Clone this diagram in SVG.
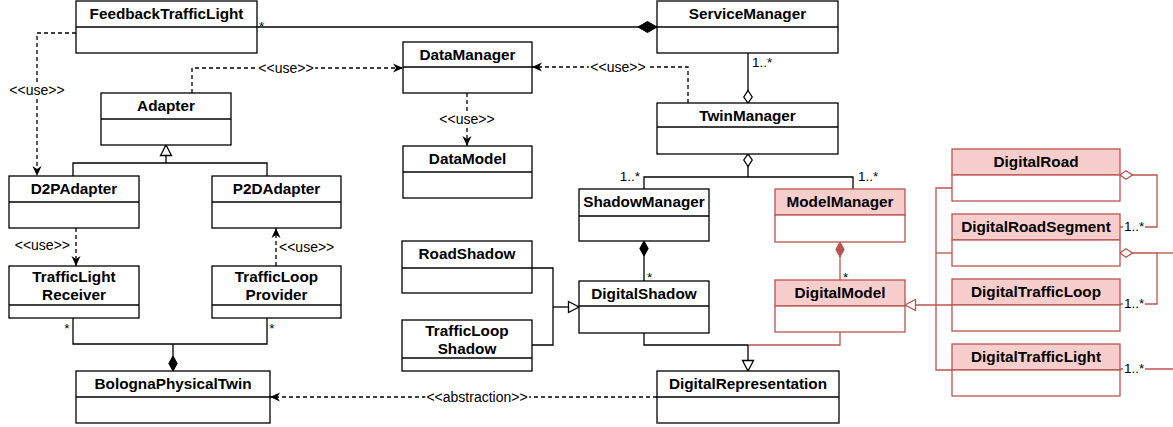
<svg xmlns="http://www.w3.org/2000/svg" width="1173" height="427" viewBox="0 0 1173 427">
  <style>
    .box rect { fill: #ffffff; stroke: #000000; stroke-width: 1.3; }
    .box path { fill: none; stroke: #000000; stroke-width: 1.3; }
    .box.red rect { stroke: #b85450; }
    .box.red rect.head { fill: #f8cecc; }
    .box.red path { stroke: #b85450; }
    .title { font-family: "Liberation Sans", Arial, Helvetica, sans-serif; font-weight: bold; font-size: 15.3px; text-anchor: middle; fill: #000000; }
    .edge { fill: none; stroke: #000000; stroke-width: 1.3; }
    .edge.red { stroke: #b85450; }
    .dash { stroke-dasharray: 4 3; }
    .lbl { font-family: "Liberation Sans", Arial, Helvetica, sans-serif; font-size: 14px; fill: #000000; stroke: #ffffff; stroke-width: 4; stroke-linejoin: round; paint-order: stroke; }
    .mult { font-family: "Liberation Sans", Arial, Helvetica, sans-serif; font-size: 13.5px; fill: #000000; }
    .bg { fill: #ffffff; stroke: none; }
  </style>
  <defs>
    <marker id="arrow" viewBox="0 0 10 9" refX="10" refY="4.5" markerWidth="10" markerHeight="9" markerUnits="userSpaceOnUse" orient="auto" overflow="visible">
      <path d="M0,0 L10,4.5 L0,9 L3,4.5 Z" fill="#000000" stroke="none"/>
    </marker>
    <marker id="tri" viewBox="0 0 12 12" refX="11" refY="6" markerWidth="12" markerHeight="12" markerUnits="userSpaceOnUse" orient="auto" overflow="visible">
      <path d="M0.5,0.5 L11,6 L0.5,11.5 Z" fill="#ffffff" stroke="#000000" stroke-width="1.3"/>
    </marker>
    <marker id="triRed" viewBox="0 0 12 12" refX="11" refY="6" markerWidth="12" markerHeight="12" markerUnits="userSpaceOnUse" orient="auto" overflow="visible">
      <path d="M0.5,0.5 L11,6 L0.5,11.5 Z" fill="#ffffff" stroke="#b85450" stroke-width="1.3"/>
    </marker>
    <marker id="diamondBig" viewBox="0 0 20 12" refX="19.5" refY="6" markerWidth="20" markerHeight="12" markerUnits="userSpaceOnUse" orient="auto" overflow="visible">
      <path d="M0.5,6 L10,0.5 L19.5,6 L10,11.5 Z" fill="#000000" stroke="#000000" stroke-width="1"/>
    </marker>
    <marker id="diamond" viewBox="0 0 16 10" refX="15.5" refY="5" markerWidth="16" markerHeight="10" markerUnits="userSpaceOnUse" orient="auto" overflow="visible">
      <path d="M0.5,5 L8,0.8 L15.5,5 L8,9.2 Z" fill="#000000" stroke="#000000" stroke-width="1"/>
    </marker>
    <marker id="diamondRed" viewBox="0 0 16 10" refX="15.5" refY="5" markerWidth="16" markerHeight="10" markerUnits="userSpaceOnUse" orient="auto" overflow="visible">
      <path d="M0.5,5 L8,0.8 L15.5,5 L8,9.2 Z" fill="#b85450" stroke="#b85450" stroke-width="1"/>
    </marker>
    <marker id="odiamond" viewBox="0 0 14 10" refX="13" refY="5" markerWidth="14" markerHeight="10" markerUnits="userSpaceOnUse" orient="auto" overflow="visible">
      <path d="M0.5,5 L7,0.8 L13,5 L7,9.2 Z" fill="#ffffff" stroke="#000000" stroke-width="1.3"/>
    </marker>
    <marker id="odiamondRed" viewBox="0 0 14 10" refX="13" refY="5" markerWidth="14" markerHeight="10" markerUnits="userSpaceOnUse" orient="auto" overflow="visible">
      <path d="M0.5,5 L7,0.8 L13,5 L7,9.2 Z" fill="#ffffff" stroke="#b85450" stroke-width="1.3"/>
    </marker>
  </defs>

  <rect width="1173" height="427" fill="#ffffff"/>

  <!-- connectors -->
  <g id="connectors">
    <!-- compositions -->
    <path class="edge" d="M257,27 H657" marker-end="url(#diamondBig)"/>
    <path class="edge" d="M644,281 V241" marker-end="url(#diamond)"/>
    <path class="edge red" d="M840,280 V242" marker-end="url(#diamondRed)"/>
    <path class="edge" d="M73,318 V344 H267 V318"/>
    <path class="edge" d="M173,344 V371" marker-end="url(#diamond)"/>

    <!-- aggregations -->
    <path class="edge" d="M748,53 V103" marker-end="url(#odiamond)"/>
    <path class="edge" d="M644,189 V177 H853 V189"/>
    <path class="edge" d="M748,177 V154" marker-end="url(#odiamond)"/>
    <path class="edge red" d="M1120,227 H1157 V175 H1120" marker-end="url(#odiamondRed)"/>
    <path class="edge red" d="M1120,304 H1157 V253 H1120" marker-end="url(#odiamondRed)"/>
    <path class="edge red" d="M1173,253 H1157"/>
    <path class="edge red" d="M1173,369 H1120"/>

    <!-- generalizations -->
    <path class="edge" d="M73,176 V163 H267 V176"/>
    <path class="edge" d="M166,163 V145" marker-end="url(#tri)"/>
    <path class="edge" d="M532,268 H553 V345 H532"/>
    <path class="edge" d="M553,307 H579" marker-end="url(#tri)"/>
    <path class="edge" d="M644,333 V345 H748"/>
    <path class="edge red" d="M840,332 V345 H748"/>
    <path class="edge" d="M748,345 V371" marker-end="url(#tri)"/>
    <path class="edge red" d="M952,188 H936 V370 H952"/>
    <path class="edge red" d="M936,253 H952"/>
    <path class="edge red" d="M952,305 H905" marker-end="url(#triRed)"/>

    <!-- dependencies -->
    <path class="edge dash" d="M76,33 H37 V176" marker-end="url(#arrow)"/>
    <path class="edge dash" d="M192,93 V68 H403" marker-end="url(#arrow)"/>
    <path class="edge dash" d="M688,103 V67 H532" marker-end="url(#arrow)"/>
    <path class="edge dash" d="M467,93 V146" marker-end="url(#arrow)"/>
    <path class="edge dash" d="M76,228 V266" marker-end="url(#arrow)"/>
    <path class="edge dash" d="M276,266 V228" marker-end="url(#arrow)"/>
    <path class="edge dash" d="M657,397 H270" marker-end="url(#arrow)"/>

    <!-- labels -->
    <text class="lbl" x="37" y="95" text-anchor="middle">&lt;&lt;use&gt;&gt;</text>
    <text class="lbl" x="286" y="73" text-anchor="middle">&lt;&lt;use&gt;&gt;</text>
    <text class="lbl" x="618" y="72" text-anchor="middle">&lt;&lt;use&gt;&gt;</text>
    <text class="lbl" x="467" y="124" text-anchor="middle">&lt;&lt;use&gt;&gt;</text>
    <text class="lbl" x="70" y="250" text-anchor="end">&lt;&lt;use&gt;&gt;</text>
    <text class="lbl" x="279" y="252" text-anchor="start">&lt;&lt;use&gt;&gt;</text>
    <text class="lbl" x="477" y="402" text-anchor="middle">&lt;&lt;abstraction&gt;&gt;</text>

    <text class="mult" x="259" y="31">*</text>
    <text class="mult" x="752" y="67">1..*</text>
    <text class="mult" x="640" y="181" text-anchor="end">1..*</text>
    <text class="mult" x="858" y="181">1..*</text>
    <text class="mult" x="647" y="282">*</text>
    <text class="mult" x="843" y="282">*</text>
    <text class="mult" x="67" y="333" text-anchor="middle">*</text>
    <text class="mult" x="272" y="333" text-anchor="middle">*</text>

    <rect class="bg" x="1123" y="219" width="22" height="15"/>
    <text class="mult" x="1124" y="231">1..*</text>
    <rect class="bg" x="1123" y="296" width="22" height="15"/>
    <text class="mult" x="1124" y="308">1..*</text>
    <rect class="bg" x="1123" y="361" width="22" height="15"/>
    <text class="mult" x="1124" y="373">1..*</text>
  </g>

  <!-- classes -->
  <g id="FeedbackTrafficLight" class="box">
    <rect x="76" y="1" width="181" height="52"/>
    <path d="M76,27 H257"/>
    <text class="title" x="166.5" y="19">FeedbackTrafficLight</text>
  </g>
  <g id="ServiceManager" class="box">
    <rect x="657" y="1" width="181" height="52"/>
    <path d="M657,27 H838"/>
    <text class="title" x="747.5" y="19">ServiceManager</text>
  </g>
  <g id="DataManager" class="box">
    <rect x="403" y="42" width="129" height="51"/>
    <path d="M403,67 H532"/>
    <text class="title" x="467.5" y="60">DataManager</text>
  </g>
  <g id="Adapter" class="box">
    <rect x="101" y="93" width="130" height="52"/>
    <path d="M101,119 H231"/>
    <text class="title" x="166" y="111">Adapter</text>
  </g>
  <g id="TwinManager" class="box">
    <rect x="657" y="103" width="181" height="51"/>
    <path d="M657,127 H838"/>
    <text class="title" x="747.5" y="121">TwinManager</text>
  </g>
  <g id="DataModel" class="box">
    <rect x="403" y="146" width="129" height="52"/>
    <path d="M403,172 H532"/>
    <text class="title" x="467.5" y="164">DataModel</text>
  </g>
  <g id="D2PAdapter" class="box">
    <rect x="9" y="176" width="130" height="52"/>
    <path d="M9,202 H139"/>
    <text class="title" x="74" y="194">D2PAdapter</text>
  </g>
  <g id="P2DAdapter" class="box">
    <rect x="212" y="176" width="129" height="52"/>
    <path d="M212,202 H341"/>
    <text class="title" x="276.5" y="194">P2DAdapter</text>
  </g>
  <g id="ShadowManager" class="box">
    <rect x="579" y="189" width="130" height="52"/>
    <path d="M579,216 H709"/>
    <text class="title" x="644" y="207">ShadowManager</text>
  </g>
  <g id="ModelManager" class="box red">
    <rect class="head" x="775" y="189" width="130" height="26"/>
    <rect x="775" y="215" width="130" height="27"/>
    <text class="title" x="840" y="207">ModelManager</text>
  </g>
  <g id="RoadShadow" class="box">
    <rect x="402" y="241" width="130" height="52"/>
    <path d="M402,268 H532"/>
    <text class="title" x="467" y="259">RoadShadow</text>
  </g>
  <g id="TrafficLightReceiver" class="box">
    <rect x="9" y="266" width="130" height="52"/>
    <path d="M9,305 H139"/>
    <text class="title" x="74" y="282">TrafficLight</text>
    <text class="title" x="74" y="300">Receiver</text>
  </g>
  <g id="TrafficLoopProvider" class="box">
    <rect x="212" y="266" width="129" height="52"/>
    <path d="M212,305 H341"/>
    <text class="title" x="276.5" y="282">TrafficLoop</text>
    <text class="title" x="276.5" y="300">Provider</text>
  </g>
  <g id="DigitalShadow" class="box">
    <rect x="579" y="281" width="130" height="52"/>
    <path d="M579,306 H709"/>
    <text class="title" x="644" y="299">DigitalShadow</text>
  </g>
  <g id="DigitalModel" class="box red">
    <rect class="head" x="775" y="280" width="130" height="26"/>
    <rect x="775" y="306" width="130" height="26"/>
    <text class="title" x="840" y="298">DigitalModel</text>
  </g>
  <g id="TrafficLoopShadow" class="box">
    <rect x="402" y="320" width="130" height="51"/>
    <path d="M402,358 H532"/>
    <text class="title" x="467" y="336">TrafficLoop</text>
    <text class="title" x="467" y="354">Shadow</text>
  </g>
  <g id="BolognaPhysicalTwin" class="box">
    <rect x="76" y="371" width="194" height="52"/>
    <path d="M76,397 H270"/>
    <text class="title" x="173" y="389">BolognaPhysicalTwin</text>
  </g>
  <g id="DigitalRepresentation" class="box">
    <rect x="657" y="371" width="182" height="52"/>
    <path d="M657,397 H839"/>
    <text class="title" x="748" y="389">DigitalRepresentation</text>
  </g>
  <g id="DigitalRoad" class="box red">
    <rect class="head" x="952" y="149" width="168" height="26"/>
    <rect x="952" y="175" width="168" height="26"/>
    <text class="title" x="1036" y="167">DigitalRoad</text>
  </g>
  <g id="DigitalRoadSegment" class="box red">
    <rect class="head" x="952" y="214" width="168" height="26"/>
    <rect x="952" y="240" width="168" height="26"/>
    <text class="title" x="1036" y="232">DigitalRoadSegment</text>
  </g>
  <g id="DigitalTrafficLoop" class="box red">
    <rect class="head" x="952" y="279" width="168" height="26"/>
    <rect x="952" y="305" width="168" height="26"/>
    <text class="title" x="1036" y="297">DigitalTrafficLoop</text>
  </g>
  <g id="DigitalTrafficLight" class="box red">
    <rect class="head" x="952" y="344" width="168" height="26"/>
    <rect x="952" y="370" width="168" height="26"/>
    <text class="title" x="1036" y="362">DigitalTrafficLight</text>
  </g>
</svg>
